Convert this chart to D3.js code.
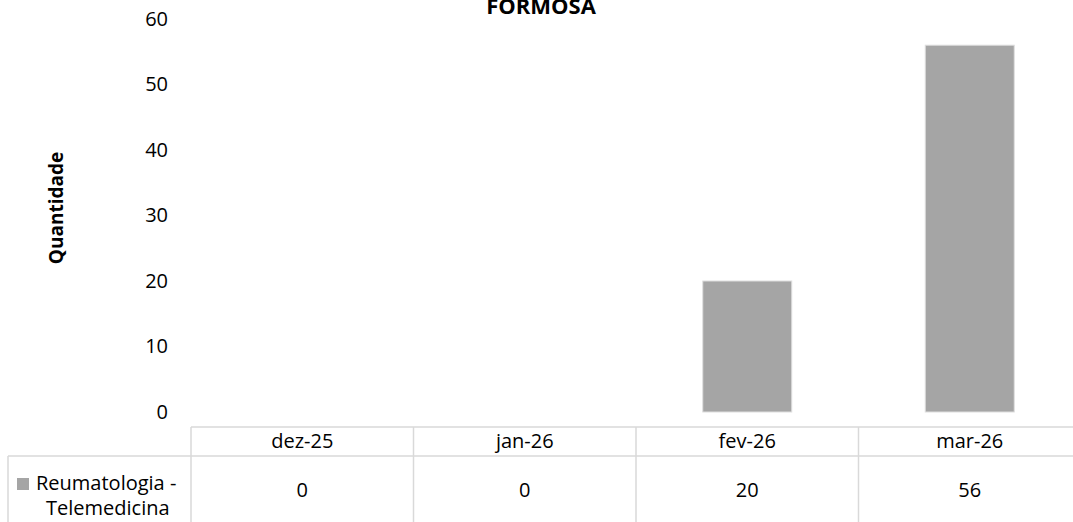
<!DOCTYPE html>
<html>
<head>
<meta charset="utf-8">
<script src="https://cdn.jsdelivr.net/npm/d3@7"></script>
<style>
  html, body { margin: 0; padding: 0; background: #fff; }
  svg { display: block; font-family: "Open Sans", sans-serif; }
</style>
</head>
<body>
<svg id="chart" width="1073" height="522"></svg>
<script>
const categories = ["dez-25", "jan-26", "fev-26", "mar-26"];
const seriesName = ["Reumatologia -", "Telemedicina"];
const values = [0, 0, 20, 56];
const yTicks = [0, 10, 20, 30, 40, 50, 60];
const chartTitle = "FORMOSA";
const yTitle = "Quantidade";

(function () {
const svg = d3.select("#chart");
const plotLeft = 191, plotRight = 1081, plotTop = 19, zeroY = 412;
const tableTop = 427, rowLine = 456, tableBottom = 540;
const barColor = "#A5A5A5", lineColor = "#D9D9D9";

const x = d3.scaleBand().domain(categories).range([plotLeft, plotRight])
  .paddingInner(0.6).paddingOuter(0.3);
const y = d3.scaleLinear().domain([0, 60]).range([zeroY, plotTop]);

// Title
svg.append("text").attr("x", 541).attr("y", 14)
  .attr("text-anchor", "middle").attr("font-weight", "bold")
  .attr("font-size", 22).attr("fill", "#000").text(chartTitle);

// Y axis
const yAxis = d3.axisLeft(y).tickValues(yTicks).tickSize(0).tickPadding(23);
const ga = svg.append("g").attr("transform", `translate(${plotLeft},0)`).call(yAxis);
ga.select(".domain").remove();
ga.selectAll("text").attr("font-size", 20).attr("fill", "#000")
  .attr("font-family", "Open Sans, sans-serif");

// Y title
svg.append("text")
  .attr("transform", `translate(63,208) rotate(-90)`)
  .attr("text-anchor", "middle").attr("font-weight", "bold")
  .attr("font-size", 19).attr("fill", "#000").text(yTitle);

// Bars
svg.append("g").selectAll("rect").data(categories).join("rect")
  .attr("x", d => x(d))
  .attr("y", (d, i) => y(values[i]))
  .attr("width", x.bandwidth())
  .attr("height", (d, i) => y(0) - y(values[i]))
  .attr("fill", barColor)
  .attr("stroke", "#dedede").attr("stroke-width", 1);

// Data table
const step = x.step();
const colLeft = d => x(d) - step * x.paddingInner() / 2;
const tg = svg.append("g").attr("stroke", lineColor).attr("stroke-width", 1.5);
tg.append("line").attr("x1", plotLeft).attr("x2", plotRight).attr("y1", tableTop).attr("y2", tableTop);
tg.append("line").attr("x1", 8).attr("x2", plotRight).attr("y1", rowLine).attr("y2", rowLine);
tg.append("line").attr("x1", 8).attr("x2", 8).attr("y1", rowLine).attr("y2", tableBottom);
tg.selectAll("line.v").data(categories).join("line").attr("class", "v")
  .attr("x1", d => colLeft(d)).attr("x2", d => colLeft(d))
  .attr("y1", tableTop).attr("y2", tableBottom);

svg.append("g").selectAll("text").data(categories).join("text")
  .attr("x", d => x(d) + x.bandwidth() / 2).attr("y", 448)
  .attr("text-anchor", "middle").attr("font-size", 20).attr("fill", "#000")
  .text(d => d);

svg.append("g").selectAll("text").data(categories).join("text")
  .attr("x", d => x(d) + x.bandwidth() / 2).attr("y", 497)
  .attr("text-anchor", "middle").attr("font-size", 20).attr("fill", "#000")
  .text((d, i) => values[i]);

// Legend key in table
svg.append("rect").attr("x", 17).attr("y", 478).attr("width", 12).attr("height", 12)
  .attr("fill", barColor);
svg.append("text").attr("x", 36).attr("y", 490).attr("font-size", 20).attr("fill", "#000")
  .text(seriesName[0]);
svg.append("text").attr("x", 46).attr("y", 515).attr("font-size", 20).attr("fill", "#000")
  .text(seriesName[1]);
})();
</script>
</body>
</html>
